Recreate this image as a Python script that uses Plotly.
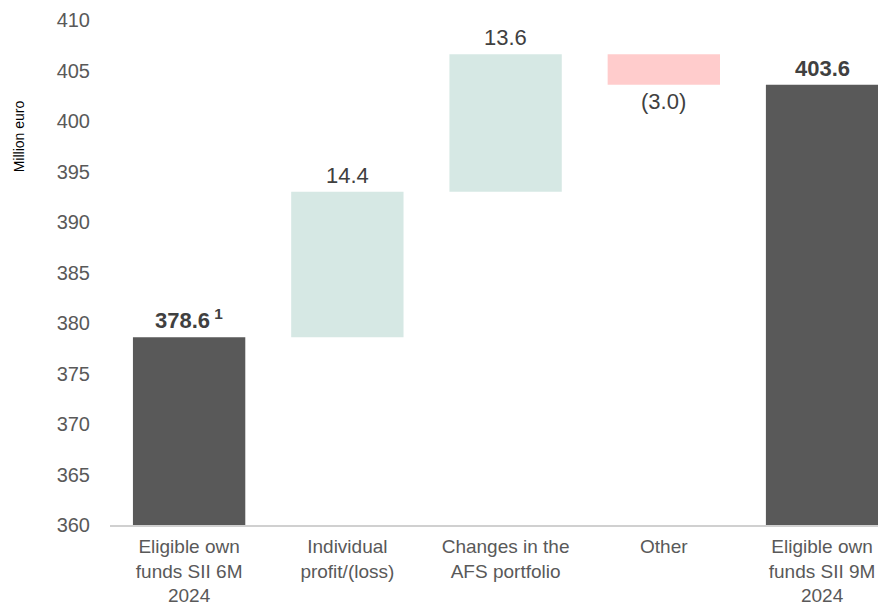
import plotly.graph_objects as go

categories = ["Eligible own<br>funds SII 6M<br>2024", "Individual<br>profit/(loss)",
              "Changes in the<br>AFS portfolio", "Other", "Eligible own<br>funds SII 9M<br>2024"]
start_value = 378.6
changes = [14.4, 13.6, -3.0]
end_value = 403.6
label_texts = ["<b>378.6</b><sup><b> 1</b></sup>", "14.4", "13.6", "(3.0)", "<b>403.6</b>"]
y_ticks = [360, 365, 370, 375, 380, 385, 390, 395, 400, 405, 410]

dark = "#595959"
teal = "#D6E8E4"
pink = "#FFCCCC"

bases, heights, colors = [], [], []
bases.append(360); heights.append(start_value - 360); colors.append(dark)
cum = start_value
for c in changes:
    if c >= 0:
        bases.append(cum); heights.append(c); colors.append(teal)
    else:
        bases.append(cum + c); heights.append(-c); colors.append(pink)
    cum += c
bases.append(360); heights.append(end_value - 360); colors.append(dark)

xs = list(range(len(categories)))
fig = go.Figure(go.Bar(x=xs, y=heights, base=bases, marker_color=colors,
                       marker_line_width=0, width=0.71, hoverinfo="skip"))

annotations = []
tops = [b + h for b, h in zip(bases, heights)]
for i, t in enumerate(label_texts):
    neg = i in (1, 2, 3) and changes[i - 1] < 0
    if neg:
        annotations.append(dict(x=i, y=bases[i], text=t, showarrow=False, yanchor="top",
                                yshift=-2, font=dict(size=22, color="#404040")))
    else:
        annotations.append(dict(x=i, y=tops[i], text=t, showarrow=False, yanchor="bottom",
                                yshift=2, font=dict(size=22, color="#404040")))

# axis title placed like the reference (upper left, rotated)
annotations.append(dict(x=-0.117, xref="paper", xanchor="center", y=0.77, yref="paper",
                        yanchor="middle", text="Million euro", textangle=-90, showarrow=False,
                        font=dict(size=14, color="black")))

fig.update_layout(
    width=878, height=597,
    margin=dict(l=102, r=0, t=12, b=80),
    plot_bgcolor="white", paper_bgcolor="white",
    font=dict(family="Liberation Sans, Arial, sans-serif", color=dark),
    showlegend=False,
    annotations=annotations,
    xaxis=dict(tickmode="array", tickvals=xs, ticktext=categories, range=[-0.5, 4.404],
               showline=True, linecolor="#D0D0D0", linewidth=2, ticks="", automargin=False,
               tickfont=dict(size=19, color=dark), showgrid=False, ticklabelstandoff=3),
    yaxis=dict(range=[360, 410], tickvals=y_ticks, showgrid=False, zeroline=False,
               automargin=False,
               showline=False, tickfont=dict(size=20, color=dark), ticklabelstandoff=19),
)
fig.write_html("out.html")
